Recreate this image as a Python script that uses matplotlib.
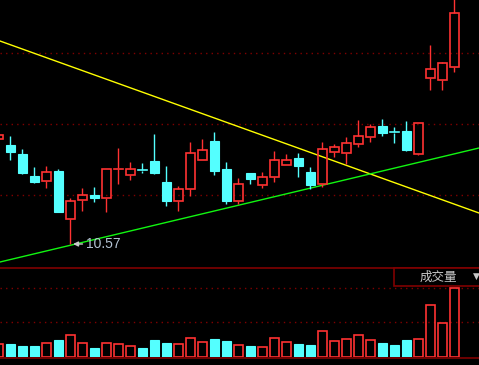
import numpy as np
import matplotlib
matplotlib.use('Agg')
import matplotlib.pyplot as plt
from matplotlib.patches import Rectangle

plt.rcParams['font.family'] = ['Noto Sans CJK SC', 'DejaVu Sans']

# daily candles: open, high, low, close
opens  = [11.62, 11.56, 11.47, 11.25, 11.20, 11.30, 10.82, 11.01, 11.06, 11.03,
          11.32, 11.26, 11.31, 11.40, 11.19, 11.00, 11.12, 11.41, 11.60, 11.32,
          11.00, 11.28, 11.16, 11.24, 11.36, 11.43, 11.29, 11.17, 11.49, 11.48,
          11.57, 11.64, 11.75, 11.69, 11.70, 11.47, 12.23, 12.21, 12.34]
highs  = [11.68, 11.65, 11.52, 11.34, 11.35, 11.32, 11.03, 11.13, 11.14, 11.32,
          11.53, 11.39, 11.38, 11.67, 11.35, 11.15, 11.59, 11.62, 11.69, 11.39,
          11.23, 11.28, 11.29, 11.50, 11.47, 11.48, 11.34, 11.59, 11.57, 11.64,
          11.81, 11.77, 11.82, 11.74, 11.80, 11.78, 12.56, 12.39, 13.16]
lows   = [11.61, 11.41, 11.27, 11.18, 11.13, 10.89, 10.57, 10.90, 10.99, 10.89,
          11.17, 11.21, 11.28, 11.27, 10.95, 10.90, 11.05, 11.41, 11.26, 10.97,
          10.97, 11.17, 11.13, 11.19, 11.36, 11.24, 11.12, 11.14, 11.44, 11.37,
          11.54, 11.59, 11.65, 11.58, 11.50, 11.46, 12.11, 12.11, 12.29]
closes = [11.66, 11.49, 11.28, 11.19, 11.29, 10.89, 11.00, 11.06, 11.03, 11.32,
          11.33, 11.32, 11.30, 11.28, 11.00, 11.12, 11.48, 11.51, 11.30, 11.00,
          11.17, 11.22, 11.24, 11.41, 11.41, 11.35, 11.16, 11.52, 11.54, 11.58,
          11.65, 11.74, 11.68, 11.68, 11.51, 11.78, 12.32, 12.38, 12.88]
volumes = [13, 13, 11, 11, 14, 17, 22, 14, 9, 14,
           13, 11, 9, 17, 14, 13, 19, 15, 18, 16,
           12, 11, 10, 19, 15, 13, 12, 26, 16, 18,
           22, 17, 14, 12, 17, 18, 52, 34, 69]

# trend lines (index, price)
yellow_x = [0.14, 40.06]
yellow_y = [12.60, 10.88]
green_x = [0.14, 40.06]
green_y = [10.39, 11.53]

price_grid = [12.48, 11.77, 11.06]
vol_grid = [35, 69]
low_label = '10.57'

RED = '#ff3232'
CYAN = '#54ffff'
DARK = '#800000'

fig = plt.figure(figsize=(4.79, 3.65), dpi=100, facecolor='black')
H = 365.0
ax = fig.add_axes([0, 1 - 267 / H, 1, 267 / H], facecolor='black')
axv = fig.add_axes([0, 1 - 357 / H, 1, 90 / H], facecolor='black')

n = len(opens)
xs = np.arange(n)
w = 0.75
for i in range(n):
    o, h, l, c = opens[i], highs[i], lows[i], closes[i]
    up = c >= o
    col = RED if up else CYAN
    lo_b, hi_b = min(o, c), max(o, c)
    ax.plot([xs[i], xs[i]], [hi_b, h], color=col, lw=1, solid_capstyle='butt', zorder=3)
    ax.plot([xs[i], xs[i]], [l, lo_b], color=col, lw=1, solid_capstyle='butt', zorder=3)
    if hi_b - lo_b < 0.015:
        ax.plot([xs[i] - w / 2, xs[i] + w / 2], [o, o], color=col, lw=1.2, zorder=3)
    elif up:
        ax.add_patch(Rectangle((xs[i] - w / 2, lo_b), w, hi_b - lo_b, fill=False,
                               edgecolor=col, lw=1.2, zorder=4))
    else:
        ax.add_patch(Rectangle((xs[i] - w / 2, lo_b), w, hi_b - lo_b,
                               facecolor=col, edgecolor=col, lw=0.8, zorder=4))

    if up:
        axv.add_patch(Rectangle((xs[i] - w / 2, 0), w, volumes[i], fill=False,
                                edgecolor=col, lw=1.2, zorder=4))
    else:
        axv.add_patch(Rectangle((xs[i] - w / 2, 0), w, volumes[i],
                                facecolor=col, edgecolor=col, lw=0.8, zorder=4))

ax.plot(yellow_x, yellow_y, color='#ffff00', lw=1, zorder=2)
ax.plot(green_x, green_y, color='#11f511', lw=1, zorder=2)

for g in price_grid:
    ax.axhline(g, color=DARK, lw=1, ls=(0, (1, 3)), zorder=1)
for g in vol_grid:
    axv.axhline(g, color=DARK, lw=1, ls=(0, (1, 3)), zorder=1)

# lowest point label
imin = int(np.argmin(lows))
ax.annotate('', xy=(xs[imin], lows[imin]), xytext=(xs[imin] + 1.25, lows[imin]),
            arrowprops=dict(arrowstyle='-|>', color='#c8c8c8', lw=1, mutation_scale=7))
ax.text(xs[imin] + 1.3, lows[imin], low_label, color='#b4c4d4', fontsize=10,
        family=['Liberation Sans', 'DejaVu Sans'], va='center', ha='left', zorder=5)

xl = (1.7 / 12, 480.7 / 12)
ax.set_xlim(xl)
axv.set_xlim(xl)
ax.set_ylim(13.01 - 2.67, 13.01)
axv.set_ylim(0, 90)
for a in (ax, axv):
    a.set_xticks([])
    a.set_yticks([])
    for s in a.spines.values():
        s.set_visible(False)

# panel separators
fig.add_artist(plt.Line2D([0, 1], [1 - 267.5 / H] * 2, color=DARK, lw=1.2))
fig.add_artist(plt.Line2D([0, 1], [1 - 357.5 / H] * 2, color=DARK, lw=1.2))

# volume label box
fig.add_artist(Rectangle((393.5 / 479, 1 - 286 / H), 90 / 479, 18.5 / H, transform=fig.transFigure,
                         facecolor='black', edgecolor=DARK, lw=1.2, zorder=6))
fig.text(438 / 479, 1 - 277 / H, '成交量', color='#c8c8c8', fontsize=9,
         ha='center', va='center', zorder=7)
fig.text(476 / 479, 1 - 276 / H, '▼', color='#c8c8c8', fontsize=6.5,
         family=['DejaVu Sans'], ha='center', va='center', zorder=7)

fig.savefig('out.png', dpi=100, facecolor='black')
